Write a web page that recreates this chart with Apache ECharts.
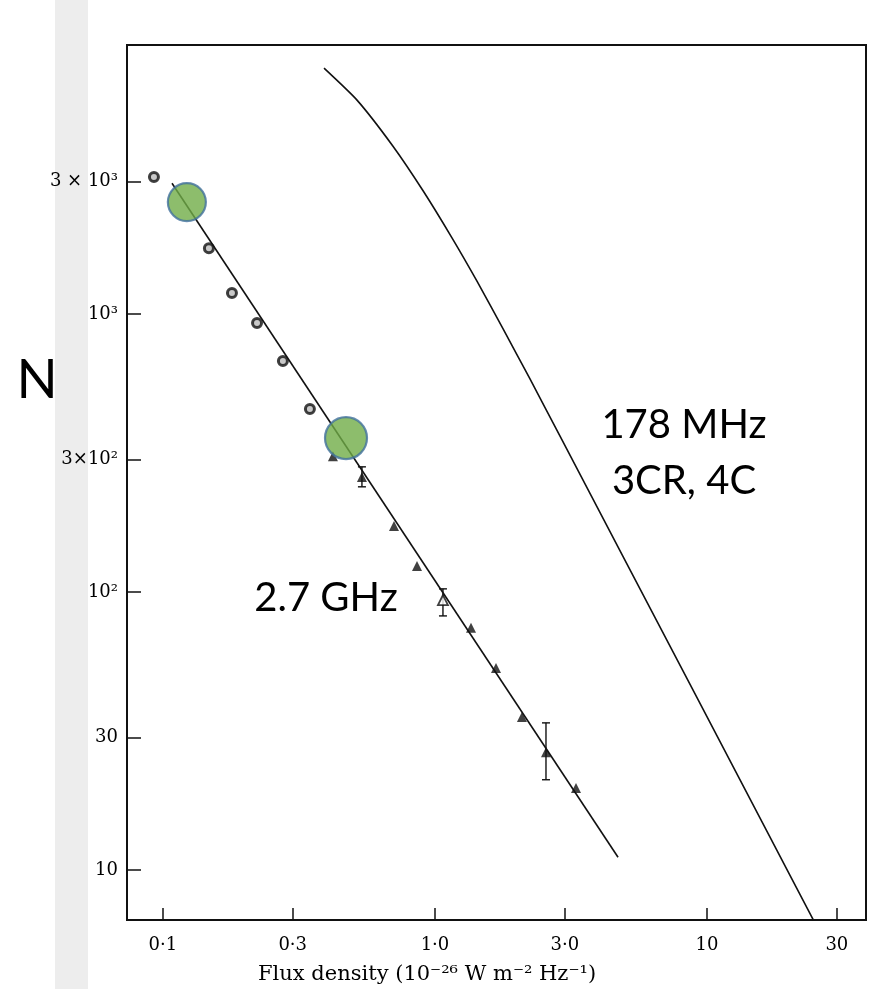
<!DOCTYPE html>
<html><head><meta charset="utf-8">
<script src="https://cdn.jsdelivr.net/npm/echarts@6/dist/echarts.min.js"></script>
<style>html,body{margin:0;padding:0;background:#fff}#c{width:879px;height:989px}</style>
</head><body><div id="c"></div>
<script>
// Axis ticks
const xTicks = [0.1, 0.3, 1, 3, 10, 30];
const xTickLabels = ['0·1', '0·3', '1·0', '3·0', '10', '30'];
const yTicks = [10, 30, 100, 300, 1000, 3000];
const yTickLabels = ['10', '30', '10²', '3×10²', '10³', '3 × 10³'];

// 2.7 GHz source counts (open circles)
const circleFlux = [0.0927, 0.1476, 0.1794, 0.2218, 0.2761, 0.347];
const circleN = [3112, 1726, 1191, 929, 678, 455];
// 2.7 GHz source counts (filled triangles)
const triFlux = [0.4217, 0.539, 0.707, 0.859, 1.357, 1.676, 2.088, 2.559, 3.299];
const triN = [308, 259, 172.6, 124, 74.3, 53.3, 35.5, 26.5, 19.7];
// open triangle
const openTriFlux = [1.070];
const openTriN = [93.5];
// error bars
const errFlux = [0.539, 1.070, 2.559];
const errLow = [239, 82.0, 21.1];
const errHigh = [282, 102.6, 33.8];
// 2.7 GHz fitted line
const fitFlux = [0.108, 4.71];
const fitN = [2958, 11.1];
// 178 MHz curve
const curveFlux = [0.391, 0.517, 0.701, 0.903, 1.155, 1.427, 1.778, 2.235, 2.882, 4.871, 16.76, 25.37];
const curveN = [7674, 5888, 4018, 2783, 1880, 1313, 886, 584, 363.8, 136.3, 13.53, 6.23];
// green highlight markers
const markFlux = [0.1225, 0.471];
const markN = [2529, 358];
const markSize = [38, 42];

const zip = (a, b) => a.map((v, i) => [v, b[i]]);

const chart = echarts.init(document.getElementById('c'), null, {renderer: 'canvas'});
const ink = '#111';
const serif = 'DejaVu Serif';

chart.setOption({
  backgroundColor: '#fff',
  animation: false,
  grid: {left: 127, right: 13, top: 45, bottom: 69, show: true, borderColor: ink, borderWidth: 2},
  xAxis: {
    type: 'log', logBase: 10, min: 0.0738, max: 38.4,
    axisLine: {show: true, lineStyle: {color: ink, width: 2}},
    axisTick: {show: true, inside: true, length: 12, customValues: xTicks, lineStyle: {color: ink, width: 1.5}},
    minorTick: {show: false},
    splitLine: {show: false},
    axisLabel: {
      customValues: xTicks, margin: 16, color: '#000', fontFamily: serif, fontSize: 18,
      formatter: v => { const i = xTicks.findIndex(t => Math.abs(t - v) / t < 1e-6); return i >= 0 ? xTickLabels[i] : ''; }
    }
  },
  yAxis: {
    type: 'log', logBase: 10, min: 6.6, max: 9296,
    axisLine: {show: true, lineStyle: {color: ink, width: 2}},
    axisTick: {show: true, inside: true, length: 14, customValues: yTicks, lineStyle: {color: ink, width: 1.5}},
    minorTick: {show: false},
    splitLine: {show: false},
    axisLabel: {
      customValues: yTicks, margin: 9, color: '#000', fontFamily: serif, fontSize: 18,
      formatter: v => { const i = yTicks.findIndex(t => Math.abs(t - v) / t < 1e-6); return i >= 0 ? yTickLabels[i] : ''; }
    }
  },
  graphic: [
    {type: 'rect', left: 55, top: 0, shape: {width: 33, height: 989}, style: {fill: 'rgba(0,0,0,0.07)'}, z: -10},
    {type: 'text', left: 258, top: 964, style: {text: 'Flux density (10⁻²⁶ W m⁻² Hz⁻¹)', font: '21px "DejaVu Serif"', fill: '#000'}},
    {type: 'text', x: 37, y: 381, style: {text: 'N', font: '54px Lato', fill: '#000', align: 'center', verticalAlign: 'middle'}},
    {type: 'text', x: 684, y: 425, style: {text: '178 MHz', font: '40px Lato', fill: '#000', align: 'center', verticalAlign: 'middle'}},
    {type: 'text', x: 684, y: 481, style: {text: '3CR, 4C', font: '40px Lato', fill: '#000', align: 'center', verticalAlign: 'middle'}},
    {type: 'text', x: 326, y: 598, style: {text: '2.7 GHz', font: '40px Lato', fill: '#000', align: 'center', verticalAlign: 'middle'}}
  ],
  series: [
    {type: 'line', data: zip(curveFlux, curveN), smooth: 0.2, showSymbol: false, clip: true,
     lineStyle: {color: ink, width: 1.6}},
    {type: 'line', data: zip(fitFlux, fitN), showSymbol: false, clip: true,
     lineStyle: {color: ink, width: 1.6}},
    {type: 'custom', data: errFlux.map((f, i) => [f, errLow[i], errHigh[i]]),
     renderItem: (params, api) => {
       const lo = api.coord([api.value(0), api.value(1)]);
       const hi = api.coord([api.value(0), api.value(2)]);
       const st = {stroke: ink, lineWidth: 1.4};
       return {type: 'group', children: [
         {type: 'line', shape: {x1: lo[0], y1: lo[1], x2: hi[0], y2: hi[1]}, style: st},
         {type: 'line', shape: {x1: lo[0] - 4, y1: lo[1], x2: lo[0] + 4, y2: lo[1]}, style: st},
         {type: 'line', shape: {x1: hi[0] - 4, y1: hi[1], x2: hi[0] + 4, y2: hi[1]}, style: st}
       ]};
     }},
    {type: 'scatter', data: zip(circleFlux, circleN), symbol: 'circle', symbolSize: 9,
     itemStyle: {color: '#bbb', borderColor: ink, borderWidth: 3}},
    {type: 'scatter', data: zip(triFlux, triN), symbol: 'triangle', symbolSize: 10,
     itemStyle: {color: ink}},
    {type: 'scatter', data: zip(openTriFlux, openTriN), symbol: 'triangle', symbolSize: 10,
     itemStyle: {color: '#fff', borderColor: ink, borderWidth: 1.8}},
    {type: 'scatter', data: markFlux.map((f, i) => ({value: [f, markN[i]], symbolSize: markSize[i]})),
     symbol: 'circle', z: 10,
     itemStyle: {color: '#70AD47', borderColor: '#41719C', borderWidth: 2.2}}
  ]
});
</script>
</body></html>
